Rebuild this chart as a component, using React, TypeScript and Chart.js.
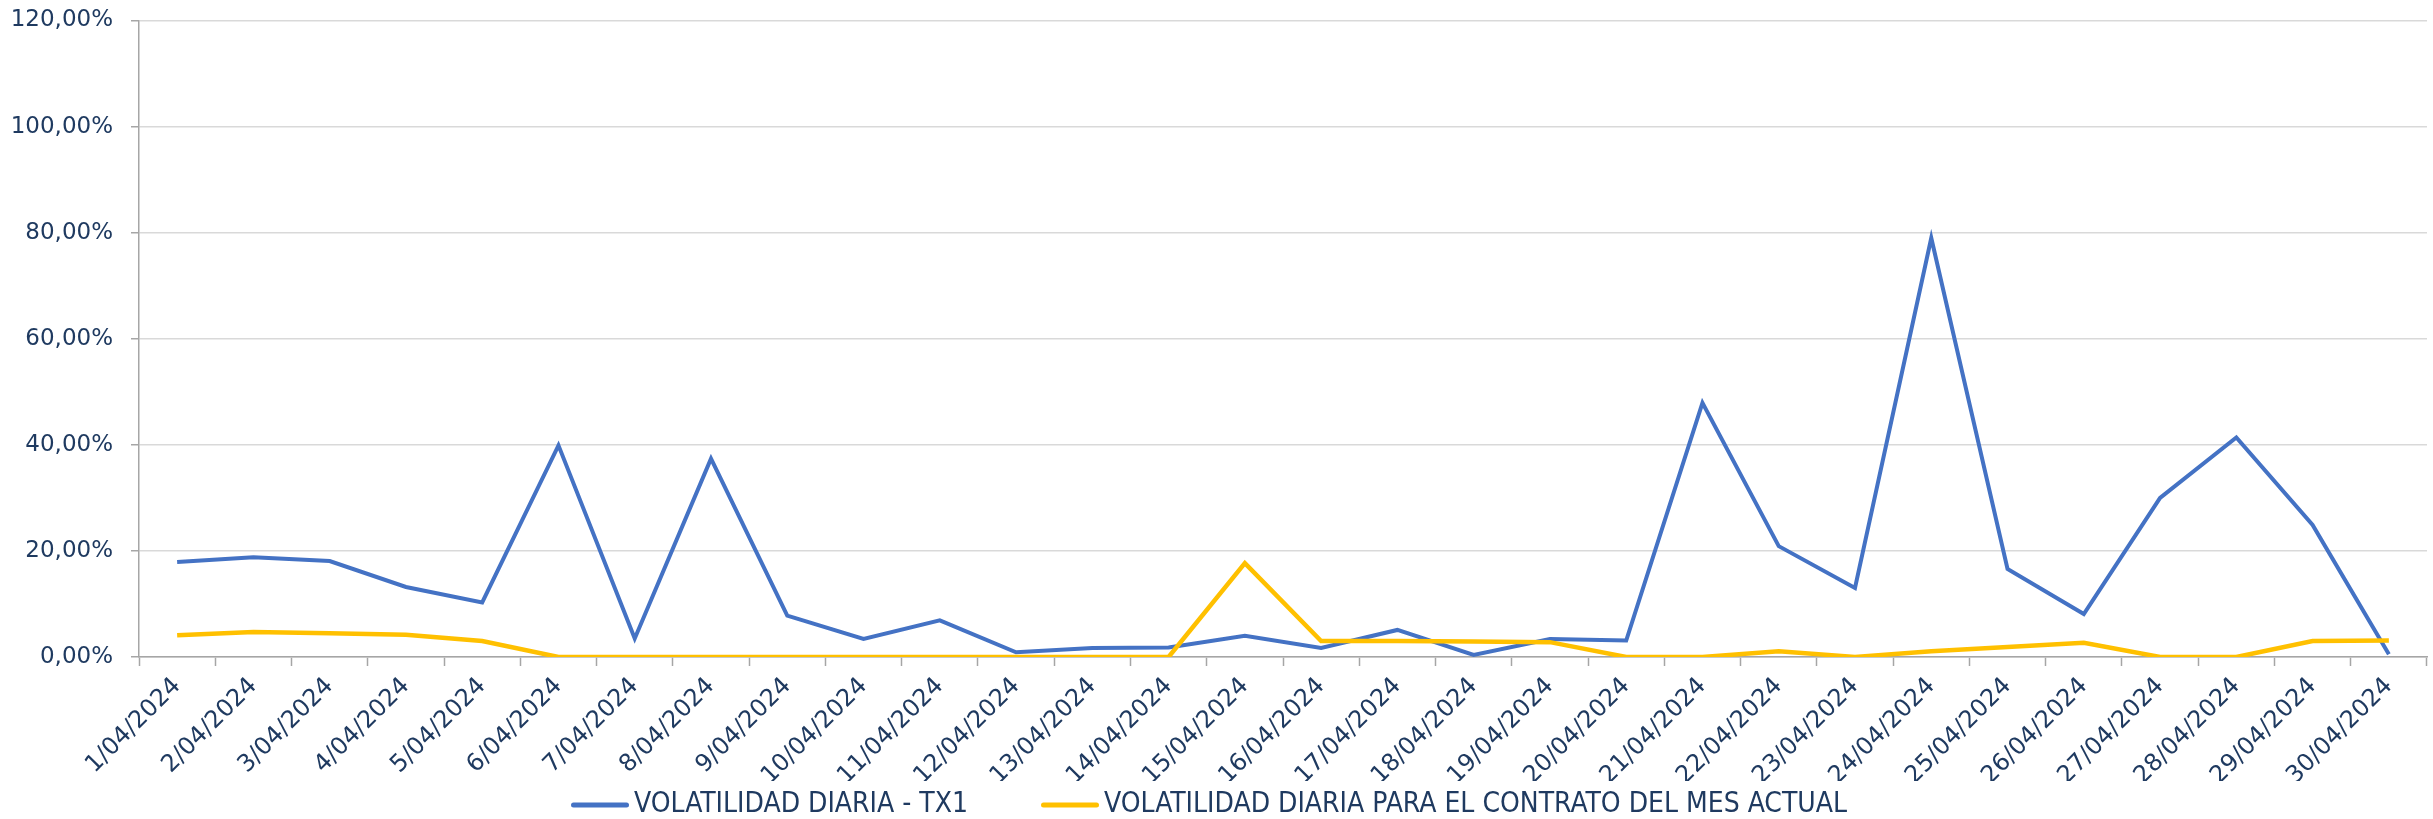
import React, { useEffect, useRef } from "react";
import { Chart, registerables } from "chart.js";

Chart.register(...registerables);

const categories = [
  "1/04/2024", "2/04/2024", "3/04/2024", "4/04/2024", "5/04/2024", "6/04/2024",
  "7/04/2024", "8/04/2024", "9/04/2024", "10/04/2024", "11/04/2024", "12/04/2024",
  "13/04/2024", "14/04/2024", "15/04/2024", "16/04/2024", "17/04/2024", "18/04/2024",
  "19/04/2024", "20/04/2024", "21/04/2024", "22/04/2024", "23/04/2024", "24/04/2024",
  "25/04/2024", "26/04/2024", "27/04/2024", "28/04/2024", "29/04/2024", "30/04/2024",
];

const volTx1 = [
  17.9, 18.8, 18.1, 13.2, 10.3, 39.9, 3.5, 37.4, 7.8, 3.4,
  6.9, 0.9, 1.7, 1.8, 4.0, 1.7, 5.1, 0.4, 3.4, 3.1,
  47.9, 20.9, 13.0, 79.0, 16.6, 8.1, 30.0, 41.4, 24.9, 0.5,
];

const volContrato = [
  4.1, 4.7, 4.5, 4.2, 3.0, 0, 0, 0, 0, 0,
  0, 0, 0, 0, 17.7, 3.0, 3.0, 2.9, 2.8, 0,
  0, 1.1, 0, 1.1, 1.9, 2.7, 0, 0, 3.0, 3.1,
];

const seriesNames = [
  "VOLATILIDAD DIARIA - TX1",
  "VOLATILIDAD DIARIA PARA EL CONTRATO DEL MES ACTUAL",
];

const seriesColors = ["#4472C4", "#FFC000"];

const yMin = 0;
const yMax = 120;
const yStep = 20;

const TEXT = "#1F3A60";
const AXIS = "#A6A6A6";
const GRID = "#D9D9D9";

function makeLineSwatch(color: string) {
  const c = document.createElement("canvas");
  c.width = 58;
  c.height = 6;
  const g = c.getContext("2d");
  if (g) {
    g.fillStyle = color;
    g.beginPath();
    g.moveTo(2.5, 0.5);
    g.lineTo(55.5, 0.5);
    g.arc(55.5, 3, 2.5, -Math.PI / 2, Math.PI / 2);
    g.lineTo(2.5, 5.5);
    g.arc(2.5, 3, 2.5, Math.PI / 2, Math.PI * 1.5);
    g.fill();
  }
  return c;
}

export default function App() {
  const ref = useRef<HTMLCanvasElement | null>(null);

  useEffect(() => {
    if (!ref.current) return;
    const swatches = seriesColors.map(makeLineSwatch);
    const chart = new Chart(ref.current, {
      type: "line",
      data: {
        labels: categories,
        datasets: [
          {
            label: seriesNames[0],
            data: volTx1,
            borderColor: seriesColors[0],
            backgroundColor: seriesColors[0],
            borderWidth: 4,
            pointRadius: 0,
            tension: 0,
            order: 1,
          },
          {
            label: seriesNames[1],
            data: volContrato,
            borderColor: seriesColors[1],
            backgroundColor: seriesColors[1],
            borderWidth: 4.5,
            pointRadius: 0,
            tension: 0,
            order: 0,
          },
        ],
      },
      options: {
        responsive: false,
        animation: false,
        layout: { padding: { top: 20.5, right: 6, left: 0, bottom: 0 } },
        plugins: {
          tooltip: { enabled: false },
          legend: {
            position: "bottom",
            labels: {
              color: TEXT,
              font: { family: "'DejaVu Sans Condensed', 'DejaVu Sans', sans-serif", size: 28 },
              usePointStyle: true,
              pointStyleWidth: 40,
              padding: 10,
              sort: (a: any, b: any) => a.datasetIndex - b.datasetIndex,
              generateLabels: (c: any) => {
                const items = Chart.defaults.plugins.legend.labels.generateLabels(c);
                items.forEach((it: any) => {
                  it.pointStyle = swatches[it.datasetIndex];
                  if (it.datasetIndex === 0) it.text = it.text + "         ";
                });
                return items;
              },
            },
          },
        },
        scales: {
          x: {
            offset: true,
            grid: {
              display: true,
              offset: true,
              drawOnChartArea: false,
              drawTicks: true,
              tickLength: 9,
              tickColor: AXIS,
              tickWidth: 1.5,
            },
            border: { display: true, color: AXIS, width: 1.5 },
            ticks: {
              color: TEXT,
              font: { family: "'DejaVu Sans', sans-serif", size: 24 },
              minRotation: 45,
              maxRotation: 45,
              autoSkip: false,
              padding: 6,
            },
            afterFit: (scale: any) => {
              scale.height = 124;
              scale.paddingLeft = 0;
              scale.paddingRight = 0;
            },
          },
          y: {
            min: yMin,
            max: yMax,
            grid: {
              color: GRID,
              lineWidth: 1.5,
              tickLength: 8,
              tickColor: AXIS,
            },
            border: { display: true, color: AXIS, width: 1.5 },
            ticks: {
              stepSize: yStep,
              color: TEXT,
              font: { family: "'DejaVu Sans', sans-serif", size: 23 },
              padding: 18,
              callback: (v: any) => Number(v).toFixed(2).replace(".", ",") + "%",
            },
            afterFit: (scale: any) => {
              scale.width = 139;
              scale.paddingTop = 0;
              scale.paddingBottom = 0;
            },
          },
        },
      },
    });
    return () => chart.destroy();
  }, []);

  return (
    <div
      style={{
        position: "fixed",
        left: 0,
        top: 0,
        width: 2433,
        height: 819,
        overflow: "hidden",
        background: "#ffffff",
      }}
    >
      <canvas ref={ref} width={2433} height={829} style={{ display: "block" }} />
    </div>
  );
}
